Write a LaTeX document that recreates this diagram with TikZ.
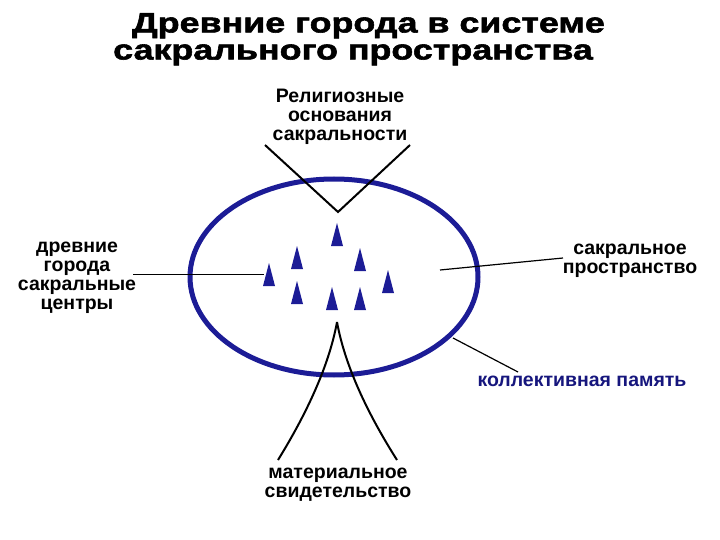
\documentclass[tikz,border=0pt]{standalone}
\usepackage{fontspec}
\setmainfont{Liberation Sans}
\newfontfamily\titlefont[FakeBold=2,FakeStretch=1.28]{Liberation Sans Bold}
\usetikzlibrary{positioning}
\definecolor{ovalblue}{RGB}{28,28,150}
\definecolor{memblue}{RGB}{22,22,125}
\tikzset{lbl/.style={align=center, inner sep=0pt, font=\bfseries\fontsize{19.5}{19}\selectfont},
%title lines
headline/.style={inner sep=0pt, align=left, anchor=north west, font=\titlefont\fontsize{28}{27}\selectfont},
pointer/.style={black, line width=1.2pt},
branch/.style={black, line width=2pt},
sacred/.style={fill=ovalblue}}

\begin{document}
\begin{tikzpicture}[x=1pt,y=-1pt]
\useasboundingbox (0,0) rectangle (720,540);
% title
\node[headline] (title) at (113,13) {\hspace*{19pt}Древние города в системе\\сакрального пространства};

% sacred space
\draw[ovalblue, line width=5pt] (334,277) ellipse [x radius=144, y radius=98];

% ancient towns
\foreach \x/\y [count=\i] in {337/223, 297/246, 360/248, 269/263, 388/270, 297/281, 332/287, 360/287}
     \fill[sacred] (\x,\y) -- (\x+6,\y+23) -- (\x-6,\y+23) -- cycle;

%labels
\node[lbl] (relig) at (340,117) {Религиозные\\основания\\сакральности};
\node[lbl] (towns) at (77,278) {древние\\города\\сакральные\\центры};
\node[lbl] (space) at (630,261) {сакральное\\пространство};
\node[lbl, text=memblue] (memory) at (582,381) {коллективная память};
\node[lbl] (matter) at (338,485) {материальное\\свидетельство};

% connectors
\coordinate (rl) at (265,145);
\coordinate (rr) at (410,145);
\coordinate (rtip) at (338,212);
\draw[branch] (rl) -- (rtip) -- (rr);

\coordinate (mtip) at (337,322);
\coordinate (ml) at (278,460);
\coordinate (mr) at (397,460);
\draw[branch] (mtip) .. controls (331,355) and (315,400) .. (ml);
\draw[branch] (mtip) .. controls (343,355) and (359,400) .. (mr);

\coordinate (tw) at (133,274);
\coordinate (te) at (264,274);
\draw[pointer, line width=1pt] (tw) -- (te);

\coordinate (sw) at (440,270);
\coordinate (se) at (563,258);
\draw[pointer] (sw) -- (se);

\coordinate (cw) at (453,338);
\coordinate (ce) at (518,372);
\draw[pointer] (cw) -- (ce);
\end{tikzpicture}
\end{document}
